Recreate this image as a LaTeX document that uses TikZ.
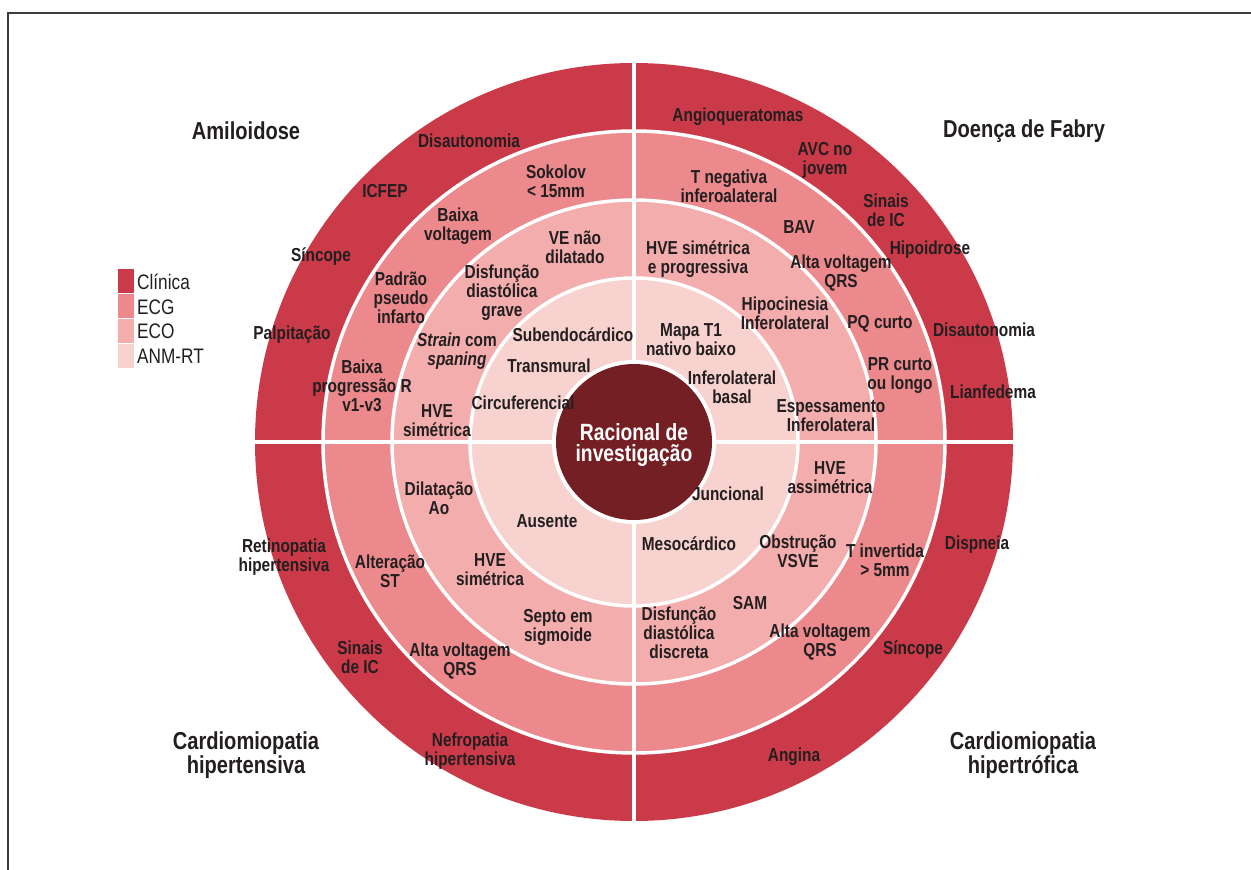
\documentclass[tikz,border=0pt]{standalone}
\usepackage{fontspec}
\setmainfont{Liberation Sans}[FakeStretch=0.82]
\definecolor{clin}{HTML}{CB3A49}
\definecolor{ecg}{HTML}{EC898C}
\definecolor{eco}{HTML}{F4ADAD}
\definecolor{anm}{HTML}{F8D2CF}
\definecolor{core}{HTML}{741F24}
\definecolor{txt}{HTML}{231F20}
\definecolor{framecol}{HTML}{3C3C3C}
\tikzset{
  lbl/.style={font=\fontsize{18.8}{19}\selectfont\bfseries, text=txt, align=center, inner sep=0pt},
  ttl/.style={font=\fontsize{24.5}{24}\selectfont\bfseries, text=txt, align=center, inner sep=0pt},
  legtxt/.style={font=\fontsize{21}{22}\selectfont, text=txt, anchor=west, inner sep=0pt},
  sep/.style={white, line width=3.5pt},
}
\begin{document}
\begin{tikzpicture}[x=1pt,y=-1pt]
\useasboundingbox (0,0) rectangle (1251,870);
\fill[white] (0,0) rectangle (1251,870);
\draw[framecol, line width=1.2pt] (8,870) -- (8,13) -- (1251,13);
\coordinate (O) at (634,442);
% rings
\fill[clin] (O) circle[radius=379];
\fill[ecg] (O) circle[radius=311];
\fill[eco] (O) circle[radius=242];
\fill[anm] (O) circle[radius=164];
\draw[sep] (O) circle[radius=311];
\draw[sep] (O) circle[radius=242];
\draw[sep] (O) circle[radius=164];
\draw[sep] (634,63) -- (634,821);
\draw[sep] (255,442) -- (1013,442);
\fill[white] (O) circle[radius=82];
\fill[core] (O) circle[radius=78];
\node[font=\fontsize{23.5}{21}\selectfont\bfseries, text=white, align=center, inner sep=0pt] (centre) at (634,445) {Racional de\\investigação};
% titles
\node[ttl] (amil) at (246,131) {Amiloidose};
\node[ttl] (fabry) at (1024,131) {Doença de Fabry};
\node[ttl] (hiptens) at (246,755) {Cardiomiopatia\\hipertensiva};
\node[ttl] (hiptrof) at (1023,755) {Cardiomiopatia\\hipertrófica};
% legend
\fill[clin] (118,269) rectangle (134,293);
\fill[ecg] (118,294) rectangle (134,318);
\fill[eco] (118,319) rectangle (134,343);
\fill[anm] (118,344) rectangle (134,368);
\node[legtxt] (lclin) at (137,282) {Clínica};
\node[legtxt] (lecg) at (137,307) {ECG};
\node[legtxt] (leco) at (137,331) {ECO};
\node[legtxt] (lanm) at (137,356) {ANM-RT};
% Amiloidose
\node[lbl] (a1) at (469,141) {Disautonomia};
\node[lbl] (a2) at (385,191) {ICFEP};
\node[lbl] (a3) at (321,257) {Síncope};
\node[lbl] (a4) at (292,335) {Palpitação};
\node[lbl] (a5) at (556,181) {Sokolov\\< 15mm};
\node[lbl] (a6) at (458,226) {Baixa\\voltagem};
\node[lbl] (a7) at (401,298) {Padrão\\pseudo\\infarto};
\node[lbl] (a8) at (362,386) {Baixa\\progressão R\\v1-v3};
\node[lbl] (a9) at (575,247) {VE não\\dilatado};
\node[lbl] (a10) at (502,293) {Disfunção\\diastólica\\grave};
\node[lbl] (a11) at (457,351) {\textit{Strain} com\\\textit{spaning}};
\node[lbl] (a12) at (437,421) {HVE\\simétrica};
\node[lbl] (a13) at (573,335) {Subendocárdico};
\node[lbl] (a14) at (549,366) {Transmural};
\node[lbl] (a15) at (523,403) {Circuferencial};
% Fabry
\node[lbl] (f1) at (738,117) {Angioqueratomas};
\node[lbl] (f2) at (825,160) {AVC no\\jovem};
\node[lbl] (f3) at (886,210) {Sinais\\de IC};
\node[lbl] (f4) at (930,250) {Hipoidrose};
\node[lbl] (f5) at (984,330) {Disautonomia};
\node[lbl] (f6) at (993,392) {Lianfedema};
\node[lbl] (f7) at (729,186) {T negativa\\inferoalateral};
\node[lbl] (f8) at (799,227) {BAV};
\node[lbl] (f9) at (841,273) {Alta voltagem\\QRS};
\node[lbl] (f10) at (880,324) {PQ curto};
\node[lbl] (f11) at (900,376) {PR curto\\ou longo};
\node[lbl] (f12) at (698,259) {HVE simétrica\\e progressiva};
\node[lbl] (f13) at (785,313) {Hipocinesia\\Inferolateral};
\node[lbl] (f14) at (831,416) {Espessamento\\Inferolateral};
\node[lbl] (f15) at (691,340) {Mapa T1\\nativo baixo};
\node[lbl] (f16) at (732,387) {Inferolateral\\basal};
% Hipertensiva
\node[lbl] (h1) at (284,557) {Retinopatia\\hipertensiva};
\node[lbl] (h2) at (360,657) {Sinais\\de IC};
\node[lbl] (h3) at (470,751) {Nefropatia\\hipertensiva};
\node[lbl] (h4) at (390,571) {Alteração\\ST};
\node[lbl] (h5) at (460,661) {Alta voltagem\\QRS};
\node[lbl] (h6) at (439,498) {Dilatação\\Ao};
\node[lbl] (h7) at (490,570) {HVE\\simétrica};
\node[lbl] (h8) at (558,627) {Septo em\\sigmoide};
\node[lbl] (h9) at (547,521) {Ausente};
% Hipertrofica
\node[lbl] (c1) at (977,545) {Dispneia};
\node[lbl] (c2) at (913,650) {Síncope};
\node[lbl] (c3) at (794,757) {Angina};
\node[lbl] (c4) at (885,560) {T invertida\\> 5mm};
\node[lbl] (c5) at (820,642) {Alta voltagem\\QRS};
\node[lbl] (c6) at (830,478) {HVE\\assimétrica};
\node[lbl] (c7) at (798,551) {Obstrução\\VSVE};
\node[lbl] (c8) at (750,603) {SAM};
\node[lbl] (c9) at (679,633) {Disfunção\\diastólica\\discreta};
\node[lbl] (c10) at (728,494) {Juncional};
\node[lbl] (c11) at (689,544) {Mesocárdico};
\end{tikzpicture}
\end{document}
